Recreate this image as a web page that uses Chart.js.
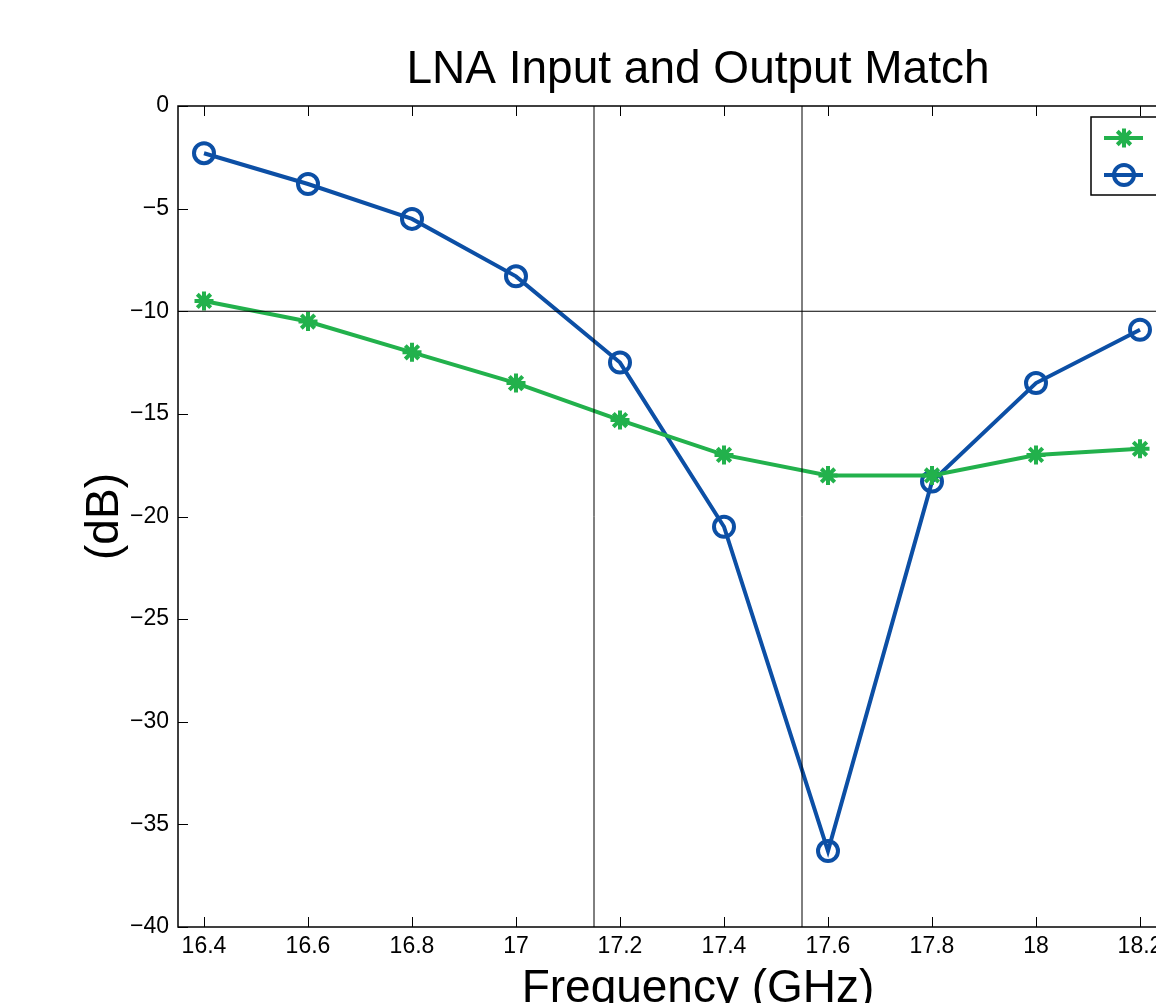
<!DOCTYPE html>
<html>
<head>
<meta charset="utf-8">
<script src="https://cdn.jsdelivr.net/npm/chart.js@4.4.1/dist/chart.umd.min.js"></script>
<style>
    html, body { margin: 0; padding: 0; background: #fff; overflow: hidden; }
    #wrap { width: 1300px; height: 1040px; }
</style>
</head>
<body>
<div id="wrap"><canvas id="chart" width="1300" height="1040"></canvas></div>
<script>
// values
const freqs = [16.4, 16.6, 16.8, 17.0, 17.2, 17.4, 17.6, 17.8, 18.0, 18.2];
const inputMatch = [-9.5, -10.5, -12.0, -13.5, -15.3, -17.0, -18.0, -18.0, -17.0, -16.7];
const outputMatch = [-2.3, -3.8, -5.5, -8.3, -12.5, -20.5, -36.3, -18.3, -13.5, -10.9];
const bandEdges = [17.15, 17.55];
const matchLimit = -10;
const xTicks = [16.4, 16.6, 16.8, 17.0, 17.2, 17.4, 17.6, 17.8, 18.0, 18.2];
const yTicks = [-40, -35, -30, -25, -20, -15, -10, -5, 0];
const xRange = [16.35, 18.35];
const yRange = [-40, 0];
const chartTitle = 'LNA Input and Output Match';

const GREEN = '#22b14c';
const BLUE = '#0c4fa5';
const FONT = "'Liberation Sans', Arial, Helvetica, sans-serif";

const toPoints = (xs, ys) => xs.map((x, i) => ({ x: x, y: ys[i] }));

const refLine = pts => ({
    data: pts,
    borderColor: '#000',
    borderWidth: 1,
    pointRadius: 0,
    pointHoverRadius: 0,
    fill: false,
    isRef: true,
});

// title centred over the axes, not over the whole canvas
const axesTitle = {
    id: 'axesTitle',
    afterDraw(chart) {
        const { ctx, chartArea: a } = chart;
        ctx.save();
        ctx.fillStyle = '#000';
        ctx.font = '46px ' + FONT;
        ctx.textAlign = 'center';
        ctx.textBaseline = 'alphabetic';
        ctx.fillText(chartTitle, (a.left + a.right) / 2, a.top - 23);
        ctx.restore();
    }
};

// box round the plot with inward ticks on all four sides
const axesBox = {
    id: 'axesBox',
    afterDatasetsDraw(chart) {
        const { ctx, chartArea: a, scales: { x, y } } = chart;
        ctx.save();
        ctx.strokeStyle = '#000';
        ctx.lineWidth = 1;
        ctx.beginPath();
        x.ticks.forEach(t => {
            const px = Math.round(x.getPixelForValue(t.value)) + 0.5;
            ctx.moveTo(px, a.bottom); ctx.lineTo(px, a.bottom - 10);
            ctx.moveTo(px, a.top); ctx.lineTo(px, a.top + 10);
        });
        y.ticks.forEach(t => {
            const py = Math.round(y.getPixelForValue(t.value)) + 0.5;
            ctx.moveTo(a.left, py); ctx.lineTo(a.left + 10, py);
            ctx.moveTo(a.right, py); ctx.lineTo(a.right - 10, py);
        });
        ctx.stroke();
        ctx.lineWidth = 1.5;
        ctx.strokeRect(a.left, a.top, a.right - a.left, a.bottom - a.top);
        ctx.restore();
    }
};

// matlab style legend in the north east corner
const matLegend = {
    id: 'matLegend',
    afterDraw(chart) {
        const { ctx, chartArea: a } = chart;
        const items = chart.data.datasets.filter(d => !d.isRef);
        const w = 116, h = 78;
        const left = a.right - 11 - w, top = a.top + 11;
        ctx.save();
        ctx.fillStyle = '#fff';
        ctx.fillRect(left, top, w, h);
        ctx.strokeStyle = '#000';
        ctx.lineWidth = 1.5;
        ctx.strokeRect(left, top, w, h);
        items.forEach((d, i) => {
            const cy = top + 21 + i * 37;
            ctx.strokeStyle = d.borderColor;
            ctx.lineWidth = d.borderWidth;
            ctx.beginPath();
            ctx.moveTo(left + 13, cy);
            ctx.lineTo(left + 52, cy);
            ctx.stroke();
            ctx.fillStyle = d.pointBackgroundColor;
            ctx.lineWidth = d.pointBorderWidth;
            Chart.helpers.drawPoint(ctx, {
                pointStyle: d.pointStyle,
                radius: d.pointRadius,
                borderWidth: d.pointBorderWidth,
                rotation: 0
            }, left + 33, cy);
            ctx.fillStyle = '#000';
            ctx.font = '23px ' + FONT;
            ctx.textBaseline = 'middle';
            ctx.fillText(d.label, left + 69, cy);
        });
        ctx.restore();
    }
};

new Chart(document.getElementById('chart'), {
    type: 'line',
    data: {
        datasets: [
            refLine([{ x: bandEdges[0], y: yRange[0] }, { x: bandEdges[0], y: yRange[1] }]),
            refLine([{ x: bandEdges[1], y: yRange[0] }, { x: bandEdges[1], y: yRange[1] }]),
            refLine([{ x: xRange[0], y: matchLimit }, { x: xRange[1], y: matchLimit }]),
            {
                label: 'S11',
                data: toPoints(freqs, inputMatch),
                borderColor: GREEN,
                borderWidth: 4,
                pointStyle: 'star',
                pointRadius: 9.5,
                pointBorderWidth: 4,
                pointBorderColor: GREEN,
                pointBackgroundColor: GREEN,
                tension: 0,
                fill: false,
            },
            {
                label: 'S22',
                data: toPoints(freqs, outputMatch),
                borderColor: BLUE,
                borderWidth: 4,
                pointStyle: 'circle',
                pointRadius: 10,
                pointBorderWidth: 4,
                pointBorderColor: BLUE,
                pointBackgroundColor: 'rgba(0,0,0,0)',
                tension: 0,
                fill: false,
            }
        ]
    },
    options: {
        responsive: false,
        animation: false,
        layout: { padding: { left: 0, top: 106, bottom: 0, right: 82 } },
        plugins: {
            legend: { display: false },
            tooltip: { enabled: false },
            title: { display: false }
        },
        scales: {
            x: {
                type: 'linear',
                min: xRange[0],
                max: xRange[1],
                afterBuildTicks: s => { s.ticks = xTicks.map(v => ({ value: v })); },
                afterFit: s => { s.height = 113; },
                grid: { display: false, drawTicks: false },
                border: { display: false },
                ticks: {
                    autoSkip: false,
                    maxRotation: 0,
                    padding: 6,
                    color: '#000',
                    font: { family: FONT, size: 23 },
                    callback: v => String(Number(v.toFixed(1)))
                },
                title: {
                    display: true,
                    text: 'Frequency (GHz)',
                    color: '#000',
                    font: { family: FONT, size: 46, lineHeight: 1.2 },
                    padding: { top: 0, bottom: 23 }
                }
            },
            y: {
                type: 'linear',
                min: yRange[0],
                max: yRange[1],
                afterBuildTicks: s => { s.ticks = yTicks.map(v => ({ value: v })); },
                afterFit: s => { s.width = 178; },
                grid: { display: false, drawTicks: false },
                border: { display: false },
                ticks: {
                    padding: 9,
                    color: '#000',
                    font: { family: FONT, size: 23 },
                    callback: v => v < 0 ? '\u2212' + Math.abs(v) : String(v)
                },
                title: {
                    display: true,
                    text: '(dB)',
                    color: '#000',
                    font: { family: FONT, size: 46, lineHeight: 1.2 },
                    padding: { top: 78, bottom: 0 }
                }
            }
        }
    },
    plugins: [axesBox, matLegend, axesTitle]
});
</script>
</body>
</html>
